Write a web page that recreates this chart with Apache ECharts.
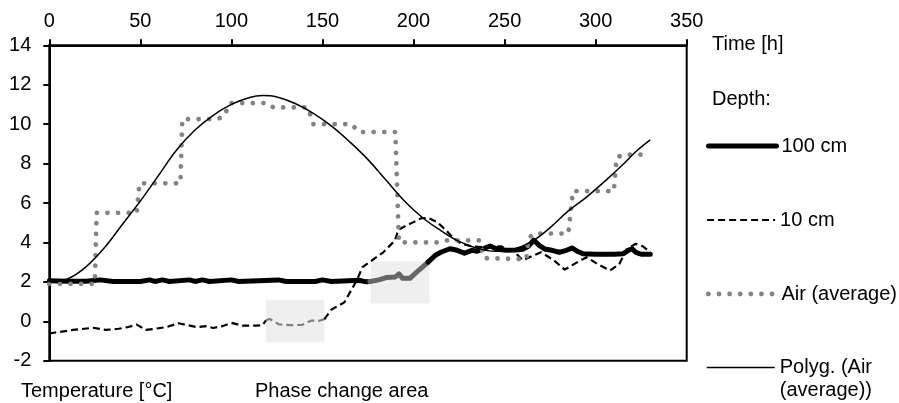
<!DOCTYPE html>
<html>
<head>
<meta charset="utf-8">
<script src="https://cdn.jsdelivr.net/npm/echarts@6/dist/echarts.min.js"></script>
<style>html,body{margin:0;padding:0;background:#fff}#c{width:899px;height:403px}</style>
</head>
<body>
<div id="c"></div>
<script>
// ---- data (time [h], temperature [°C]) ----
var xTicks = [0, 50, 100, 150, 200, 250, 300, 350];
var yTicks = [-2, 0, 2, 4, 6, 8, 10, 12, 14];

var depth100 = [[0,2.05],[10,2.03],[20,2.03],[28,2.1],[35,2.02],[50,2.02],[55,2.1],[58,2.02],[62,2.1],[66,2.02],[77,2.1],[80,2.02],[84,2.1],[88,2.02],[100,2.1],[104,2.02],[126,2.1],[130,2.02],[146,2.02],[150,2.1],[155,2.02],[170,2.08],[174,2.0],[176,2.02],[181,2.1],[185,2.22],[190,2.25],[192,2.4],[194,2.18],[198,2.18],[203,2.6],[208,3.0],[212,3.35],[215,3.5],[220,3.68],[224,3.6],[228,3.45],[232,3.6],[235,3.55],[242,3.82],[246,3.65],[251,3.6],[256,3.62],[260,3.65],[263,3.8],[266,4.12],[269,3.85],[272,3.67],[276,3.6],[280,3.5],[284,3.6],[287,3.72],[290,3.55],[293,3.42],[300,3.4],[310,3.4],[315,3.42],[318,3.6],[320,3.68],[322,3.5],[325,3.4],[330,3.4]];

var depth10 = [[0,-0.62],[5,-0.55],[13,-0.44],[24,-0.33],[31,-0.44],[38,-0.38],[43,-0.3],[48,-0.17],[53,-0.44],[58,-0.38],[64,-0.3],[71,-0.1],[76,-0.2],[81,-0.3],[86,-0.25],[90,-0.34],[95,-0.25],[100,-0.08],[106,-0.22],[114,-0.22],[117,-0.2],[119,0.05],[121,0.12],[126,-0.15],[132,-0.2],[139,-0.18],[144,0.04],[148,0.02],[151,0.1],[155,0.6],[162,0.96],[168.8,2.07],[172,2.75],[177,3.08],[183.4,3.5],[189.8,4.1],[191.7,4.65],[196.3,4.86],[200,5.03],[204,5.22],[208,5.25],[213,5.03],[218,4.6],[222,4.2],[226,3.95],[232,3.8],[240,3.75],[248,3.8],[255,3.55],[260,3.1],[265,3.3],[270,3.5],[277,3.1],[283,2.62],[290,3.0],[295,3.25],[302,2.85],[308,2.58],[313,2.9],[317,3.65],[322,3.93],[326,3.8],[330,3.5]];

var airAverage = [[0,1.9],[25,1.9],[26,5.5],[48,5.5],[49.5,7.0],[72,7.0],[73,10.25],[92,10.25],[96,10.4],[99,11.07],[120,11.07],[123,10.85],[142,10.85],[145,10.0],[166,10.0],[170,9.6],[190,9.6],[192,4.0],[214,4.0],[218,4.1],[236,4.1],[239,3.2],[262,3.15],[263,4.2],[266,4.45],[285,4.45],[287.5,6.6],[310,6.6],[311.5,8.3],[315,8.45],[328,8.45]];

var airTrend = [[0,2.0],[10,2.15],[20,2.75],[30,3.7],[40,4.9],[50,6.1],[60,7.4],[70,8.7],[80,9.7],[90,10.45],[100,11.0],[110,11.35],[117,11.45],[125,11.38],[135,11.05],[145,10.55],[155,9.9],[165,9.1],[175,8.2],[185,7.15],[195,6.1],[205,5.25],[215,4.6],[225,4.05],[235,3.7],[245,3.55],[255,3.65],[265,4.05],[275,4.75],[285,5.6],[295,6.3],[305,7.1],[315,7.95],[322,8.6],[330,9.2]];

// phase change areas: [xFrom, xTo, yFrom, yTo]
var phaseAreas10 = [119, 151, -1.07, 1.09];
var phaseAreas100 = [176.5, 208.7, 0.9, 3.05];

var names = {d100: '100 cm', d10: '10 cm', air: 'Air (average)', trend: 'Polyg. (Air (average))'};

function seg(arr, a, b) { return arr.filter(function (p) { return p[0] >= a && p[0] <= b; }); }

var FONT = 'Liberation Sans, Arial, sans-serif';
var FS = 20;

var d100Line = {color: '#000', width: 5, cap: 'round', join: 'round'};
var d100Grey = {color: '#666', width: 5, cap: 'round', join: 'round'};
var d10Line = {color: '#000', width: 2.2, type: [7, 4]};
var d10Grey = {color: '#808080', width: 2.2, type: [7, 4]};
var airLine = {color: '#838383', width: 4.8, type: [0.01, 10.6], cap: 'round'};
var trendLine = {color: '#000', width: 1.5};

function lineSeries(name, data, ls, z, smooth) {
  return {type: 'line', name: name, data: data, showSymbol: false, symbol: 'none', smooth: smooth || false,
    lineStyle: ls, itemStyle: {color: ls.color}, z: z, silent: true, animation: false};
}

var series = [
  {type: 'line', name: 'areas', data: [], z: 1, silent: true,
    markArea: {silent: true, itemStyle: {color: '#efefef'}, data: [
      [{coord: [phaseAreas10[0], phaseAreas10[2]]}, {coord: [phaseAreas10[1], phaseAreas10[3]]}],
      [{coord: [phaseAreas100[0], phaseAreas100[2]]}, {coord: [phaseAreas100[1], phaseAreas100[3]]}]
    ]}},
  lineSeries(names.d100, seg(depth100, 0, phaseAreas100[0] - 0.5), d100Line, 2),
  lineSeries('100 cm phase', seg(depth100, phaseAreas100[0] - 0.5, 208), d100Grey, 2),
  lineSeries('100 cm b', seg(depth100, 208, 400), d100Line, 2),
  lineSeries(names.d10, seg(depth10, 0, 119), d10Line, 3),
  lineSeries('10 cm phase', seg(depth10, 119, 151), d10Grey, 3),
  lineSeries('10 cm b', seg(depth10, 151, 400), d10Line, 3),
  lineSeries(names.air, airAverage, airLine, 4),
  lineSeries(names.trend, airTrend, trendLine, 5, 0.4)
];

function legendAt(name, top, extra) {
  var l = {data: [name], orient: 'vertical', left: 706, top: top, padding: 0, itemWidth: 68, itemHeight: 20,
    selectedMode: false,
    itemStyle: {opacity: 0, borderWidth: 0},
    textStyle: {fontFamily: FONT, fontSize: FS, color: '#000'},
    lineStyle: {width: 'inherit'}};
  if (extra) for (var k in extra) l[k] = extra[k];
  return l;
}

var chart = echarts.init(document.getElementById('c'), null, {renderer: 'canvas'});
chart.setOption({
  animation: false,
  backgroundColor: '#fff',
  grid: {left: 49.3, right: 212.3, top: 45.3, bottom: 42.3, show: true, borderColor: '#000', borderWidth: 2, backgroundColor: 'transparent'},
  xAxis: {type: 'value', position: 'top', min: xTicks[0], max: xTicks[xTicks.length - 1], interval: 50,
    axisLine: {show: true, onZero: false, lineStyle: {color: '#000', width: 2}},
    axisTick: {show: true, length: 6, lineStyle: {color: '#000', width: 2}},
    axisLabel: {color: '#000', fontFamily: FONT, fontSize: FS, margin: 14},
    splitLine: {show: false}},
  yAxis: {type: 'value', min: yTicks[0], max: yTicks[yTicks.length - 1], interval: 2,
    axisLine: {show: true, onZero: false, lineStyle: {color: '#000', width: 2}},
    axisTick: {show: true, length: 6, lineStyle: {color: '#000', width: 2}},
    axisLabel: {color: '#000', fontFamily: FONT, fontSize: FS, margin: 18},
    splitLine: {show: false}},
  legend: [
    legendAt(names.d100, 136),
    legendAt(names.d10, 210),
    legendAt(names.air, 284),
    legendAt(names.trend, 333, {formatter: function () { return '\nPolyg. (Air\n(average))'; },
      textStyle: {fontFamily: FONT, fontSize: FS, color: '#000', lineHeight: 23}})
  ],
  graphic: [
    {type: 'text', left: 712, top: 34, style: {text: 'Time [h]', font: FS + 'px ' + FONT, fill: '#000'}},
    {type: 'text', left: 712, top: 89, style: {text: 'Depth:', font: FS + 'px ' + FONT, fill: '#000'}},
    {type: 'text', left: 21, top: 381, style: {text: 'Temperature [°C]', font: FS + 'px ' + FONT, fill: '#000'}},
    {type: 'text', left: 255, top: 381, style: {text: 'Phase change area', font: FS + 'px ' + FONT, fill: '#000'}}
  ],
  series: series
});
</script>
</body>
</html>
